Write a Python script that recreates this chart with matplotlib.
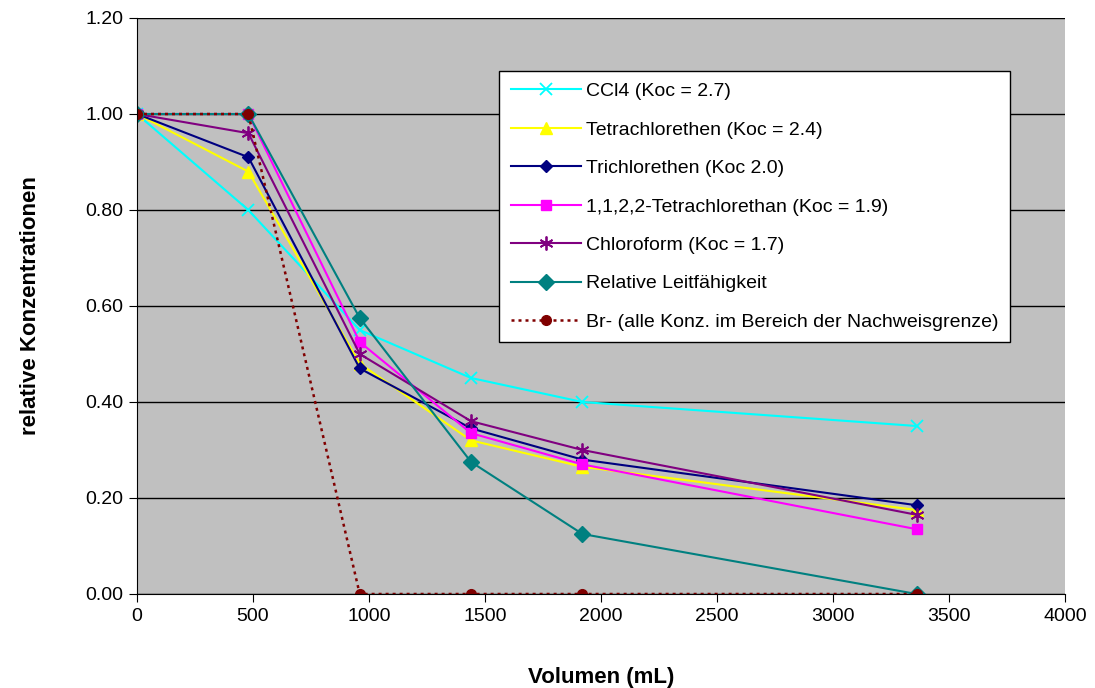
import matplotlib.pyplot as plt
from matplotlib.ticker import FormatStrFormatter, MultipleLocator

plt.rcParams['font.family'] = ['Liberation Sans', 'DejaVu Sans']

volumen = [0, 480, 960, 1440, 1920, 3360]

ccl4 = [1.0, 0.80, 0.55, 0.45, 0.40, 0.35]
tetrachlorethen = [1.0, 0.88, 0.48, 0.32, 0.265, 0.175]
trichlorethen = [1.0, 0.91, 0.47, 0.345, 0.28, 0.185]
tetrachlorethan = [1.0, 1.0, 0.525, 0.335, 0.27, 0.135]
chloroform = [1.0, 0.96, 0.50, 0.36, 0.30, 0.165]
leitfaehigkeit = [1.0, 1.0, 0.575, 0.275, 0.125, 0.0]
bromid = [1.0, 1.0, 0.0, 0.0, 0.0, 0.0]

labels = [
    "CCl4 (Koc = 2.7)",
    "Tetrachlorethen (Koc = 2.4)",
    "Trichlorethen (Koc 2.0)",
    "1,1,2,2-Tetrachlorethan (Koc = 1.9)",
    "Chloroform (Koc = 1.7)",
    "Relative Leitfähigkeit",
    "Br- (alle Konz. im Bereich der Nachweisgrenze)",
]

fig = plt.figure(figsize=(10.95, 6.88), dpi=100)
ax = fig.add_axes([137 / 1095, 94 / 688, 928 / 1095, 576 / 688])
ax.set_facecolor("#C0C0C0")

ax.plot(volumen, ccl4, color="#00FFFF", marker="x", ms=9, mew=1.3, lw=1.5, label=labels[0])
ax.plot(volumen, tetrachlorethen, color="#FFFF00", marker="^", ms=8, lw=1.5, label=labels[1])
ax.plot(volumen, trichlorethen, color="#000080", marker="D", ms=6, lw=1.5, label=labels[2])
ax.plot(volumen, tetrachlorethan, color="#FF00FF", marker="s", ms=7, lw=1.5, label=labels[3])
ax.plot(volumen, chloroform, color="#800080", marker=(6, 2, 0), ms=10, mew=1.3, lw=1.5, label=labels[4])
ax.plot(volumen, leitfaehigkeit, color="#008080", marker="D", ms=8, lw=1.5, label=labels[5])
ax.plot(volumen, bromid, color="#800000", marker="o", ms=7, lw=1.8, ls=(0, (1.2, 1.6)), label=labels[6])

ax.set_xlim(0, 4000)
ax.set_ylim(0, 1.2)
ax.xaxis.set_major_locator(MultipleLocator(500))
ax.yaxis.set_major_locator(MultipleLocator(0.2))
ax.yaxis.set_major_formatter(FormatStrFormatter("%.2f"))
ax.grid(axis="y", color="black", lw=1)
ax.set_axisbelow(True)
for s in ["top", "right"]:
    ax.spines[s].set_visible(False)
ax.tick_params(direction="out", length=6, labelsize=14, pad=4)

ax.set_xlabel("Volumen (mL)", fontsize=16, fontweight="bold", labelpad=30)
ax.set_ylabel("relative Konzentrationen", fontsize=16, fontweight="bold", labelpad=32)

leg = ax.legend(loc="upper left", bbox_to_anchor=((499 - 137) / 928, (594 - 71) / 576),
                fontsize=14, frameon=True, fancybox=False, edgecolor="black",
                framealpha=1, borderpad=0.6, labelspacing=1.07, handlelength=3.6,
                handletextpad=0.25, borderaxespad=0)
leg.get_frame().set_linewidth(1)

fig.savefig("out.png", dpi=100)
